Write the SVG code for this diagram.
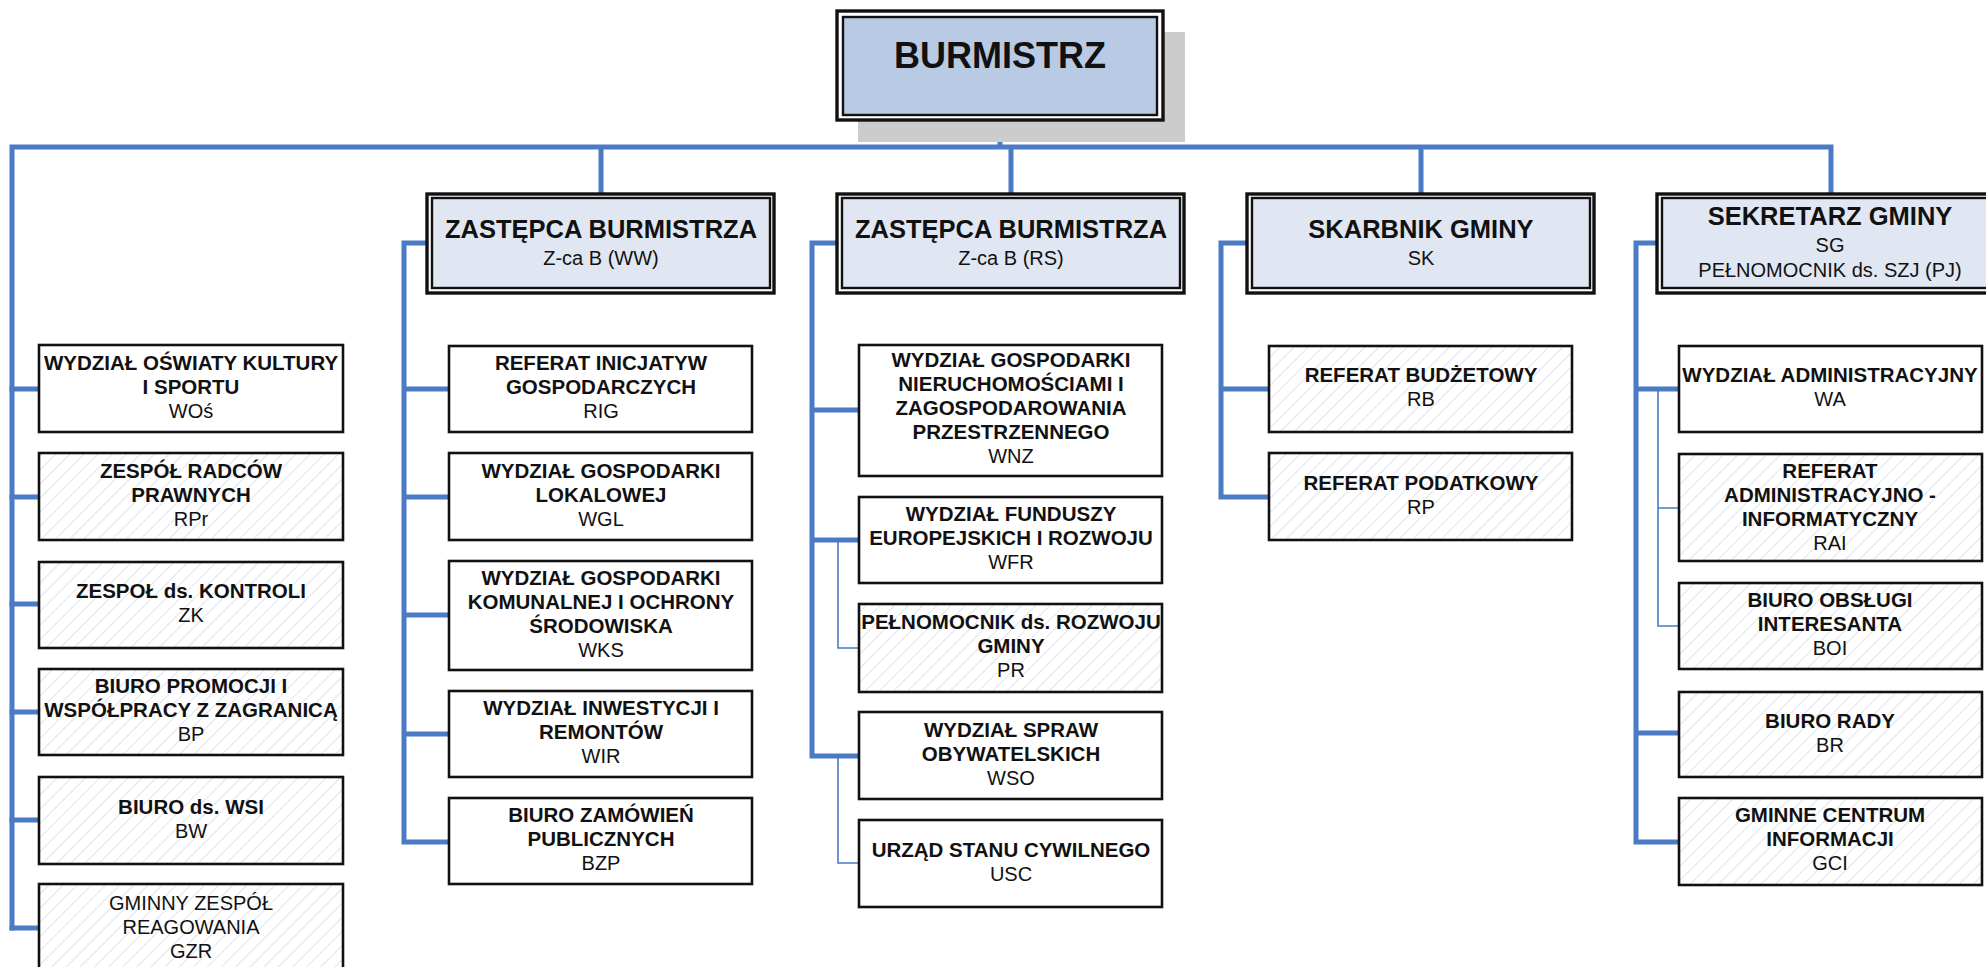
<svg xmlns="http://www.w3.org/2000/svg" width="1986" height="967" viewBox="0 0 1986 967">
<defs>
<pattern id="hatch" patternUnits="userSpaceOnUse" width="10" height="10" patternTransform="rotate(45)">
<rect width="10" height="10" fill="#ffffff"/>
<line x1="0" y1="0" x2="0" y2="10" stroke="#dfe4ee" stroke-width="2"/>
</pattern>
<style>
.bx{fill:#ffffff;stroke:#111;stroke-width:2.6}
.hx{fill:url(#hatch);stroke:#111;stroke-width:2.6}
.mo{fill:#ffffff;stroke:#111;stroke-width:3.4}
.mi{fill:#e1e7f2;stroke:#111;stroke-width:2.4}
.b{font-family:"Liberation Sans",Arial,sans-serif;font-weight:bold;font-size:20.5px;fill:#111;text-anchor:middle}
.r{font-family:"Liberation Sans",Arial,sans-serif;font-size:20px;fill:#111;text-anchor:middle}
.t{font-family:"Liberation Sans",Arial,sans-serif;font-weight:bold;font-size:25.5px;fill:#111;text-anchor:middle}
.k{fill:none;stroke:#4a7bc4;stroke-width:5;stroke-linejoin:miter;stroke-linecap:square}
.n{fill:none;stroke:#4a7bc4;stroke-width:1.6}
</style>
</defs>
<g id="connectors">
<path class="k" d="M1000,120 V147 M12,147 H1831 M12,147 V928 M601,147 V194 M1011,147 V194 M1421,147 V194 M1831,147 V194"/>
<path class="k" d="M12,389 H39 M12,497 H39 M12,604 H39 M12,712 H39 M12,820 H39 M12,928 H39"/>
<path class="k" d="M427,243 H404 V842 M404,389 H449 M404,497 H449 M404,615 H449 M404,734 H449 M404,842 H449"/>
<path class="k" d="M837,243 H812 V756 M812,410 H859 M812,540 H859 M812,756 H859"/>
<path class="n" d="M838,540 V648 H859 M838,756 V863 H859"/>
<path class="k" d="M1247,243 H1221 V497 M1221,389 H1269 M1221,497 H1269"/>
<path class="k" d="M1657,243 H1636 V842 M1636,389 H1679 M1636,733 H1679 M1636,842 H1679"/>
<path class="n" d="M1658,389 V626 H1679 M1658,508 H1679"/>
</g>
<g id="burmistrz">
<rect x="858" y="32" width="327" height="110" fill="#cccccc"/>
<rect class="mo" x="837" y="11" width="326" height="109"/>
<rect class="mi" x="843" y="17" width="314" height="98" style="fill:#b9cae4"/>
<text class="t" x="1000" y="68" style="font-size:36px">BURMISTRZ</text>
</g>
<g id="zastepca-ww">
<rect class="mo" x="427" y="194" width="347" height="99"/>
<rect class="mi" x="432" y="198" width="338" height="90"/>
<text class="t" x="601" y="238">ZASTĘPCA BURMISTRZA</text>
<text class="r" x="601" y="265">Z-ca B (WW)</text>
</g>
<g id="zastepca-rs">
<rect class="mo" x="837" y="194" width="347" height="99"/>
<rect class="mi" x="842" y="198" width="338" height="90"/>
<text class="t" x="1011" y="238">ZASTĘPCA BURMISTRZA</text>
<text class="r" x="1011" y="265">Z-ca B (RS)</text>
</g>
<g id="skarbnik">
<rect class="mo" x="1247" y="194" width="347" height="99"/>
<rect class="mi" x="1252" y="198" width="338" height="90"/>
<text class="t" x="1421" y="238">SKARBNIK GMINY</text>
<text class="r" x="1421" y="265">SK</text>
</g>
<g id="sekretarz">
<rect class="mo" x="1657" y="194" width="347" height="99"/>
<rect class="mi" x="1662" y="198" width="338" height="90"/>
<text class="t" x="1830" y="225">SEKRETARZ GMINY</text>
<text class="r" x="1830" y="252">SG</text>
<text class="r" x="1830" y="277">PEŁNOMOCNIK ds. SZJ (PJ)</text>
</g>
<g id="wos">
<rect class="bx" x="39" y="345" width="304" height="87"/>
<text class="b" x="191" y="370">WYDZIAŁ OŚWIATY KULTURY</text>
<text class="b" x="191" y="394">I SPORTU</text>
<text class="r" x="191" y="418">WOś</text>
</g>
<g id="rpr">
<rect class="hx" x="39" y="453" width="304" height="87"/>
<text class="b" x="191" y="478">ZESPÓŁ RADCÓW</text>
<text class="b" x="191" y="502">PRAWNYCH</text>
<text class="r" x="191" y="526">RPr</text>
</g>
<g id="zk">
<rect class="hx" x="39" y="562" width="304" height="86"/>
<text class="b" x="191" y="598">ZESPOŁ ds. KONTROLI</text>
<text class="r" x="191" y="622">ZK</text>
</g>
<g id="bp">
<rect class="hx" x="39" y="669" width="304" height="86"/>
<text class="b" x="191" y="693">BIURO PROMOCJI I</text>
<text class="b" x="191" y="717">WSPÓŁPRACY Z ZAGRANICĄ</text>
<text class="r" x="191" y="741">BP</text>
</g>
<g id="bw">
<rect class="hx" x="39" y="777" width="304" height="87"/>
<text class="b" x="191" y="814">BIURO ds. WSI</text>
<text class="r" x="191" y="838">BW</text>
</g>
<g id="gzr">
<rect class="hx" x="39" y="884" width="304" height="87"/>
<text class="r" x="191" y="910">GMINNY ZESPÓŁ</text>
<text class="r" x="191" y="934">REAGOWANIA</text>
<text class="r" x="191" y="958">GZR</text>
</g>
<g id="rig">
<rect class="bx" x="449" y="346" width="303" height="86"/>
<text class="b" x="601" y="370">REFERAT INICJATYW</text>
<text class="b" x="601" y="394">GOSPODARCZYCH</text>
<text class="r" x="601" y="418">RIG</text>
</g>
<g id="wgl">
<rect class="bx" x="449" y="453" width="303" height="87"/>
<text class="b" x="601" y="478">WYDZIAŁ GOSPODARKI</text>
<text class="b" x="601" y="502">LOKALOWEJ</text>
<text class="r" x="601" y="526">WGL</text>
</g>
<g id="wks">
<rect class="bx" x="449" y="561" width="303" height="109"/>
<text class="b" x="601" y="585">WYDZIAŁ GOSPODARKI</text>
<text class="b" x="601" y="609">KOMUNALNEJ I OCHRONY</text>
<text class="b" x="601" y="633">ŚRODOWISKA</text>
<text class="r" x="601" y="657">WKS</text>
</g>
<g id="wir">
<rect class="bx" x="449" y="691" width="303" height="86"/>
<text class="b" x="601" y="715">WYDZIAŁ INWESTYCJI I</text>
<text class="b" x="601" y="739">REMONTÓW</text>
<text class="r" x="601" y="763">WIR</text>
</g>
<g id="bzp">
<rect class="bx" x="449" y="798" width="303" height="86"/>
<text class="b" x="601" y="822">BIURO ZAMÓWIEŃ</text>
<text class="b" x="601" y="846">PUBLICZNYCH</text>
<text class="r" x="601" y="870">BZP</text>
</g>
<g id="wnz">
<rect class="bx" x="859" y="345" width="303" height="131"/>
<text class="b" x="1011" y="367">WYDZIAŁ GOSPODARKI</text>
<text class="b" x="1011" y="391">NIERUCHOMOŚCIAMI I</text>
<text class="b" x="1011" y="415">ZAGOSPODAROWANIA</text>
<text class="b" x="1011" y="439">PRZESTRZENNEGO</text>
<text class="r" x="1011" y="463">WNZ</text>
</g>
<g id="wfr">
<rect class="bx" x="859" y="497" width="303" height="86"/>
<text class="b" x="1011" y="521">WYDZIAŁ FUNDUSZY</text>
<text class="b" x="1011" y="545">EUROPEJSKICH I ROZWOJU</text>
<text class="r" x="1011" y="569">WFR</text>
</g>
<g id="pr">
<rect class="hx" x="859" y="604" width="303" height="88"/>
<text class="b" x="1011" y="629">PEŁNOMOCNIK ds. ROZWOJU</text>
<text class="b" x="1011" y="653">GMINY</text>
<text class="r" x="1011" y="677">PR</text>
</g>
<g id="wso">
<rect class="bx" x="859" y="712" width="303" height="87"/>
<text class="b" x="1011" y="737">WYDZIAŁ SPRAW</text>
<text class="b" x="1011" y="761">OBYWATELSKICH</text>
<text class="r" x="1011" y="785">WSO</text>
</g>
<g id="usc">
<rect class="bx" x="859" y="820" width="303" height="87"/>
<text class="b" x="1011" y="857">URZĄD STANU CYWILNEGO</text>
<text class="r" x="1011" y="881">USC</text>
</g>
<g id="rb">
<rect class="hx" x="1269" y="346" width="303" height="86"/>
<text class="b" x="1421" y="382">REFERAT BUDŻETOWY</text>
<text class="r" x="1421" y="406">RB</text>
</g>
<g id="rp">
<rect class="hx" x="1269" y="453" width="303" height="87"/>
<text class="b" x="1421" y="490">REFERAT PODATKOWY</text>
<text class="r" x="1421" y="514">RP</text>
</g>
<g id="wa">
<rect class="bx" x="1679" y="346" width="303" height="86"/>
<text class="b" x="1830" y="382">WYDZIAŁ ADMINISTRACYJNY</text>
<text class="r" x="1830" y="406">WA</text>
</g>
<g id="rai">
<rect class="hx" x="1679" y="454" width="303" height="107"/>
<text class="b" x="1830" y="478">REFERAT</text>
<text class="b" x="1830" y="502">ADMINISTRACYJNO -</text>
<text class="b" x="1830" y="526">INFORMATYCZNY</text>
<text class="r" x="1830" y="550">RAI</text>
</g>
<g id="boi">
<rect class="hx" x="1679" y="583" width="303" height="86"/>
<text class="b" x="1830" y="607">BIURO OBSŁUGI</text>
<text class="b" x="1830" y="631">INTERESANTA</text>
<text class="r" x="1830" y="655">BOI</text>
</g>
<g id="br">
<rect class="hx" x="1679" y="692" width="303" height="85"/>
<text class="b" x="1830" y="728">BIURO RADY</text>
<text class="r" x="1830" y="752">BR</text>
</g>
<g id="gci">
<rect class="hx" x="1679" y="798" width="303" height="87"/>
<text class="b" x="1830" y="822">GMINNE CENTRUM</text>
<text class="b" x="1830" y="846">INFORMACJI</text>
<text class="r" x="1830" y="870">GCI</text>
</g>
</svg>
